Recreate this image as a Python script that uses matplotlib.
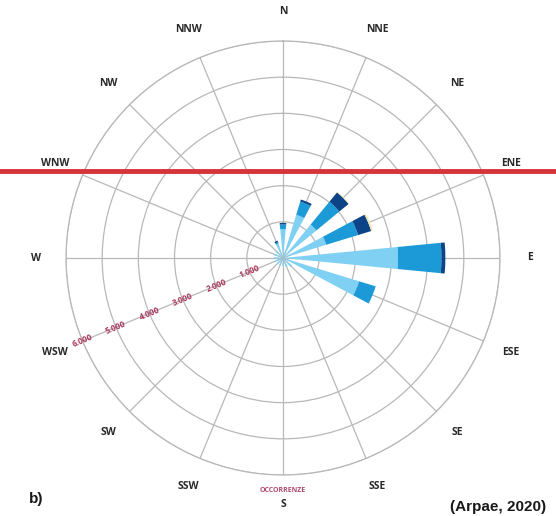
import numpy as np
import matplotlib
matplotlib.use("Agg")
import matplotlib.pyplot as plt

directions = ["N", "NNE", "NE", "ENE", "E", "ESE", "SE", "SSE",
              "S", "SSW", "SW", "WSW", "W", "WNW", "NW", "NNW"]
# occurrences per speed class (stacked)
cls_light = [800, 1250, 1200, 1250, 3180, 2200, 320, 260, 230, 220, 220, 230, 250, 250, 260, 420]
cls_mid = [130, 380, 820, 920, 1200, 480, 0, 0, 0, 0, 0, 0, 0, 0, 0, 40]
cls_dark = [40, 60, 330, 380, 110, 0, 0, 0, 0, 0, 0, 0, 0, 0, 0, 40]
cls_cream = [0, 0, 20, 50, 0, 0, 0, 0, 0, 0, 0, 0, 0, 0, 0, 0]
ring_values = [1000, 2000, 3000, 4000, 5000, 6000]
ring_labels = ["1.000", "2.000", "3.000", "4.000", "5.000", "6.000"]

colors = ["#7fd0f2", "#1c9ad8", "#0c4487", "#f3e6b0"]

fig = plt.figure(figsize=(5.56, 5.16), dpi=100)
fig.patch.set_facecolor("white")
ax = fig.add_axes([0.1187, 0.0795, 0.7806, 0.841], projection="polar")
ax.set_theta_zero_location("N")
ax.set_theta_direction(-1)
ax.set_ylim(0, 6000)

theta = np.deg2rad(np.arange(len(directions)) * 22.5)
width = np.deg2rad(11)

bottom = np.zeros(len(directions))
for vals, c in zip([cls_light, cls_mid, cls_dark, cls_cream], colors):
    v = np.array(vals, dtype=float)
    ax.bar(theta, v, width=width, bottom=bottom, color=c, edgecolor="none",
           zorder=3)
    bottom += v

# grid
ax.set_xticks(theta)
ax.set_xticklabels([])
ax.set_yticks(ring_values)
ax.set_yticklabels([])
ax.grid(True, color="#b8b8b8", linewidth=0.9)
ax.spines["polar"].set_color("#b8b8b8")
ax.spines["polar"].set_linewidth(0.9)
ax.tick_params(length=0)

# direction labels
for t, d in zip(theta, directions):
    ax.text(t, 6830, d, ha="center", va="center", fontsize=7.5,
            family="Open Sans", fontweight="bold", color="#2a2a2a",
            clip_on=False)

# radial labels along WSW
ang = np.deg2rad(247.5)
for rv, lab in zip(ring_values, ring_labels):
    ax.text(ang, rv, lab, ha="center", va="center", fontsize=6,
            family="Open Sans", fontweight="bold", color="#a8375a",
            rotation=22.5, rotation_mode="anchor", zorder=5)

fig.text(283 / 556, 1 - 490 / 516, "OCCORRENZE", ha="center", va="center",
         fontsize=5, family="Open Sans", fontweight="bold", color="#b04a6c")
fig.text(36 / 556, 1 - 499 / 516, "b)", ha="center", va="center",
         fontsize=11, family="Liberation Sans", fontweight="bold", color="#1a1a1a")
fig.text(450 / 556, 1 - 514 / 516, "(Arpae, 2020)", ha="left", va="bottom",
         fontsize=11, family="Liberation Sans", fontweight="bold", color="#1a1a1a")

# red horizontal line
fig.add_artist(plt.Line2D([0, 1], [1 - 171 / 516, 1 - 171 / 516],
                          color="#d7333b", linewidth=3.5, transform=fig.transFigure))

fig.savefig("out.png", dpi=100, facecolor="white")
